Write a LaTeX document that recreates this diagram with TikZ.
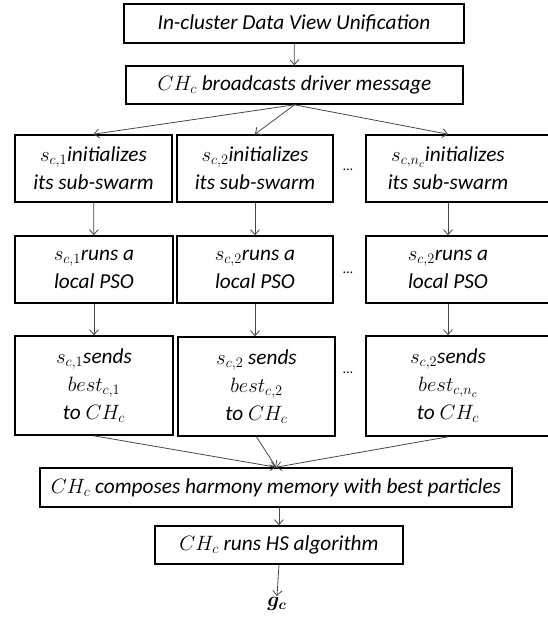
\documentclass[tikz,border=0pt]{standalone}
\usepackage{amsmath}
\usepackage{fontspec}
\setmainfont{Carlito}
\usetikzlibrary{arrows.meta}
\newcommand\nl{\\\itshape}
\begin{document}
\begin{tikzpicture}[x=1pt,y=-1pt,
  box/.style={draw=black,line width=1.6pt,inner sep=0pt},
  lbl/.style={font=\fontsize{21.3}{28}\selectfont\itshape,align=center,inner sep=0pt},
  arr/.style={draw=black!72,line width=0.8pt,-{Straight Barb[length=5pt,width=9pt]}},
  dots/.style={font=\fontsize{14}{14}\selectfont,inner sep=0pt}]
\useasboundingbox (0,0) rectangle (548,618);
\clip (0,0) rectangle (548,618);
% top
\node[box,lbl,minimum width=340pt,minimum height=39pt] (b1) at (294,23.5) {In-cluster Data View Unification};
\node[box,lbl,minimum width=337pt,minimum height=38pt] (b2) at (294.5,85) {$CH_c$ broadcasts driver message};
% row 1
\node[box,lbl,minimum width=157pt,minimum height=67pt] (a1) at (93.5,168.5) {\itshape$s_{c,1}$initializes\nl its sub-swarm};
\node[box,lbl,minimum width=156pt,minimum height=67pt] (m1) at (255,168.5) {\itshape$s_{c,2}$initializes\nl its sub-swarm};
\node[box,minimum width=186pt,minimum height=67pt] (c1) at (459,168.5) {};
\node[lbl] (c1t) at (448,168.5) {\itshape$s_{c,n_c}$initializes\nl its sub-swarm};
% row 2
\node[box,lbl,minimum width=158pt,minimum height=67pt] (a2) at (94,269.5) {\itshape$s_{c,1}$runs a\nl local PSO};
\node[box,lbl,minimum width=156pt,minimum height=67pt] (m2) at (255,269.5) {\itshape$s_{c,2}$runs a\nl local PSO};
\node[box,minimum width=186pt,minimum height=67pt] (c2) at (459,269.5) {};
\node[lbl] (c2t) at (448,269.5) {\itshape$s_{c,2}$runs a\nl local PSO};
% row 3
\node[box,lbl,minimum width=158pt,minimum height=99pt] (a3) at (94,385.5) {\itshape$s_{c,1}$sends\nl $best_{c,1}$\nl to $CH_c$};
\node[box,lbl,minimum width=157pt,minimum height=99pt] (m3) at (256.5,386.5) {\itshape$s_{c,2}$ sends\nl $best_{c,2}$\nl to $CH_c$};
\node[box,minimum width=186pt,minimum height=100pt] (c3) at (459,386) {};
\node[lbl] (c3t) at (448,386) {\itshape$s_{c,2}$sends\nl $best_{c,n_c}$\nl to $CH_c$};
% dots
\node[dots] (d1) at (348,170) {\ldots};
\node[dots] (d2) at (348,273) {\ldots};
\node[dots] (d3) at (348,373) {\ldots};
% bottom
\node[box,lbl,minimum width=472pt,minimum height=39pt] (cm) at (276,487.5) {$CH_c$ composes harmony memory with best particles};
\node[box,lbl,minimum width=248pt,minimum height=38pt] (hs) at (279,545) {$CH_c$ runs HS algorithm};
\node[font=\fontsize{21}{21}\selectfont,inner sep=1pt] (g) at (277,604) {$\boldsymbol{g_c}$};
% arrows
\draw[arr] (b1) -- (b2);
\draw[arr] (b2.south) -- (a1.north);
\draw[arr] (b2.south) -- (m1.north);
\draw[arr] (b2.south) -- (c1t |- c1.north);
\draw[arr] (a1) -- (a2);
\draw[arr] (m1) -- (m2);
\draw[arr] (c1t |- c1.south) -- (c1t |- c2.north);
\draw[arr] (a2) -- (a3);
\draw[arr] (m2) -- (m2 |- m3.north);
\draw[arr] (c1t |- c2.south) -- (c1t |- c3.north);
\draw[arr] (a3.south) -- (cm.north);
\draw[arr] (m3.south) -- (cm.north);
\draw[arr] (c3t |- c3.south) -- (cm.north);
\draw[arr] (cm.south -| hs.north) -- (hs.north);
\draw[arr] (hs.south) -- (g.north);
\end{tikzpicture}
\end{document}
